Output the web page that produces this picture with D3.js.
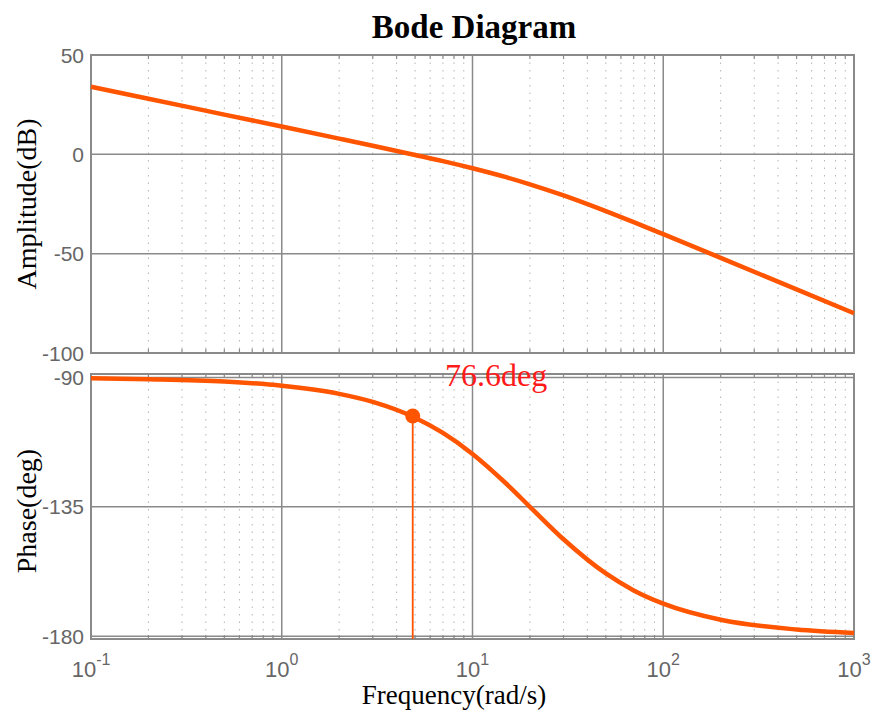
<!DOCTYPE html>
<html><head><meta charset="utf-8">
<script src="https://cdn.jsdelivr.net/npm/d3@7"></script>
<style>body{margin:0;background:#fff}svg{display:block}</style>
</head><body>
<script>
const freq = [0.1,0.2,0.5,1,2,3,5,7,10,15,20,30,50,70,100,200,500,1000];
const magDb = [34.0,28.0,20.0,14.0,7.9,4.3,-0.3,-3.4,-7.0,-11.5,-15.1,-20.7,-28.6,-34.1,-40.2,-52.1,-68.0,-80.0];
const phaseDeg = [-90.3,-90.6,-91.4,-92.9,-95.7,-98.5,-104.0,-109.3,-116.6,-126.9,-135.0,-146.3,-158.2,-164.1,-168.7,-174.3,-177.7,-178.9];
const marginPoint = {w:4.86, phase:-103.4, label:"76.6deg"};
const magTicks = [50,0,-50,-100];
const phaseTicks = [-90,-135,-180];
const freqTicks = [-1,0,1,2,3];

const W=878,H=713;
const svg=d3.select("body").append("svg").attr("width",W).attr("height",H);
const x=d3.scaleLog().domain([0.1,1000]).range([91,854]);
const yM=d3.scaleLinear().domain([-100,50]).range([353,55]);
const yP=d3.scaleLinear().domain([-181,-88.8]).range([639,374]);
const lineCol="#ff5500", gridCol="#8a8a8a", tickCol="#666";
const serif="Liberation Serif, Times New Roman, serif", sans="Liberation Sans, Arial, sans-serif";
const minor=[];
for(let e=-1;e<3;e++)for(let k=2;k<10;k++)minor.push(k*Math.pow(10,e));

function panel(y,ticks){
  const g=svg.append("g");
  const [y0,y1]=[y.range()[0],y.range()[1]];
  g.selectAll(".mn").data(minor).enter().append("line")
    .attr("x1",d=>x(d)).attr("x2",d=>x(d)).attr("y1",y1).attr("y2",y0)
    .attr("stroke","#b5b5b5").attr("stroke-width",1).attr("stroke-dasharray","1.5,6");
  g.selectAll(".mj").data(freqTicks.slice(1,4)).enter().append("line")
    .attr("x1",d=>x(Math.pow(10,d))).attr("x2",d=>x(Math.pow(10,d))).attr("y1",y1).attr("y2",y0)
    .attr("stroke",gridCol).attr("stroke-width",1.5);
  g.selectAll(".hz").data(ticks).enter().append("line")
    .attr("x1",91).attr("x2",854).attr("y1",d=>y(d)).attr("y2",d=>y(d))
    .attr("stroke",gridCol).attr("stroke-width",1.5);
  [y1,y0].forEach((yy,i)=>{
    g.selectAll(".mt"+i).data(minor).enter().append("line")
      .attr("x1",d=>x(d)).attr("x2",d=>x(d)).attr("y1",yy).attr("y2",yy+(i?-4:4))
      .attr("stroke",gridCol).attr("stroke-width",1.2);
  });
  g.append("rect").attr("x",91).attr("y",y1).attr("width",854-91).attr("height",y0-y1)
    .attr("fill","none").attr("stroke",gridCol).attr("stroke-width",2);
  g.selectAll(".tl").data(ticks).enter().append("text")
    .attr("x",84).attr("y",d=>y(d)).attr("dy","0.36em").attr("text-anchor","end")
    .attr("font-family",sans).attr("font-size",21).attr("fill",tickCol)
    .text(d=>d);
}
panel(yM,magTicks);
panel(yP,phaseTicks);

const lineM=d3.line().x((d,i)=>x(freq[i])).y(d=>yM(d)).curve(d3.curveMonotoneX);
const lineP=d3.line().x((d,i)=>x(freq[i])).y(d=>yP(d)).curve(d3.curveMonotoneX);
svg.append("path").attr("d",lineM(magDb)).attr("fill","none").attr("stroke",lineCol).attr("stroke-width",4.5);
svg.append("path").attr("d",lineP(phaseDeg)).attr("fill","none").attr("stroke",lineCol).attr("stroke-width",4.5);

svg.append("line").attr("x1",x(marginPoint.w)).attr("x2",x(marginPoint.w))
  .attr("y1",yP(marginPoint.phase)).attr("y2",yP(-181)).attr("stroke",lineCol).attr("stroke-width",1.8);
svg.append("circle").attr("cx",x(marginPoint.w)).attr("cy",yP(marginPoint.phase)).attr("r",7.5).attr("fill",lineCol);
svg.append("text").attr("x",445).attr("y",386).attr("font-family",serif)
  .attr("font-size",32).attr("fill","#ff1a1a").text(marginPoint.label);

const xt=svg.selectAll(".xt").data(freqTicks).enter().append("text")
  .attr("x",d=>x(Math.pow(10,d))).attr("y",677).attr("text-anchor","middle")
  .attr("font-family",sans).attr("font-size",22).attr("fill",tickCol);
xt.append("tspan").text("10");
xt.append("tspan").attr("dy",-12).attr("font-size",16).text(d=>d);

svg.append("text").attr("x",474).attr("y",38).attr("text-anchor","middle")
  .attr("font-family",serif).attr("font-weight","bold").attr("font-size",33)
  .text("Bode Diagram");
svg.append("text").attr("x",454).attr("y",704).attr("text-anchor","middle")
  .attr("font-family",serif).attr("font-size",27)
  .text("Frequency(rad/s)");
svg.append("text").attr("transform","translate(36,204) rotate(-90)").attr("text-anchor","middle")
  .attr("font-family",serif).attr("font-size",28)
  .text("Amplitude(dB)");
svg.append("text").attr("transform","translate(36,511) rotate(-90)").attr("text-anchor","middle")
  .attr("font-family",serif).attr("font-size",28)
  .text("Phase(deg)");
</script>
</body></html>
